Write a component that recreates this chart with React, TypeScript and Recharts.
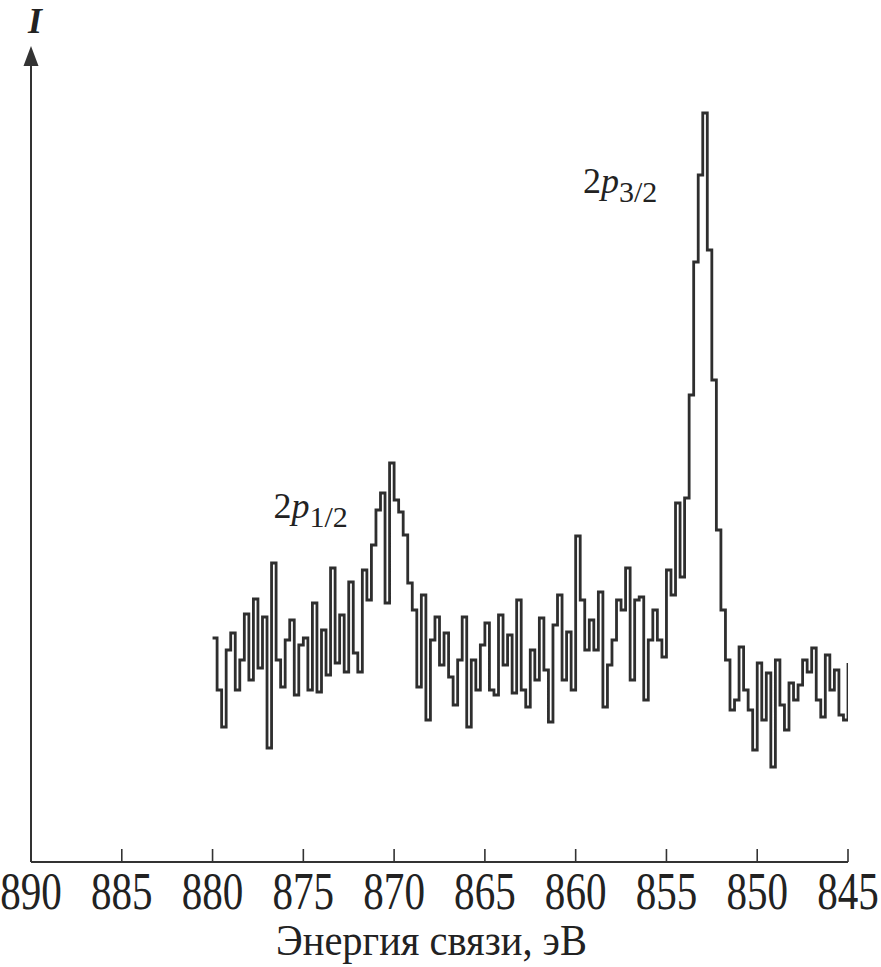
import React from 'react';
import {
  LineChart,
  Line,
  XAxis,
  YAxis,
  ReferenceLine,
  ReferenceDot,
  Label,
} from 'recharts';

// binding energy grid, eV (880 -> 845 in 0.25 eV steps)
const START_EV = 880;
const STEP_EV = 0.25;

// intensity, arbitrary units
const intensity = [
  224, 172, 135, 212, 229, 172, 202, 248, 182, 263,
  194, 245, 114, 299, 202, 175, 222, 242, 167, 217,
  224, 172, 259, 170, 232, 187, 294, 199, 247, 190,
  280, 209, 190, 292, 262, 317, 352, 369, 259, 399,
  362, 350, 327, 279, 252, 175, 267, 142, 222, 245,
  197, 229, 185, 157, 202, 245, 135, 202, 172, 217,
  239, 172, 167, 247, 197, 227, 169, 262, 172, 155,
  212, 182, 244, 192, 140, 237, 267, 182, 230, 172,
  326, 262, 212, 242, 212, 270, 155, 197, 222, 262,
  252, 294, 182, 262, 265, 162, 222, 252, 222, 205,
  292, 267, 359, 285, 364, 467, 600, 687, 749, 612,
  482, 332, 252, 202, 152, 162, 215, 172, 152, 112,
  199, 142, 189, 95, 202, 157, 132, 179, 162, 177,
  202, 190, 214, 162, 145, 207, 172, 192, 147, 142,
  199,
];

const xTicks = [890, 885, 880, 875, 870, 865, 860, 855, 850, 845];

const peakLabels = [
  { e: 876.65, i: 344, main: '2', sub: '1/2' },
  { e: 859.6, i: 669, main: '2', sub: '3/2' },
];

const rows = intensity.map((v, k) => ({ e: START_EV - k * STEP_EV, i: v }));

const INK = '#333';
const SERIF = 'Liberation Serif, Times New Roman, DejaVu Serif, serif';

const XTick = (props: any) => {
  const { x, y, payload } = props;
  return (
    <g transform={`translate(${x},${y})`}>
      <line x1={0} y1={0} x2={0} y2={-13} stroke={INK} strokeWidth={1.6} />
      <text
        transform="scale(0.79,1)"
        y={47}
        textAnchor="middle"
        style={{ fontFamily: SERIF, fontSize: 52 }}
        fill="#222"
      >
        {payload.value}
      </text>
    </g>
  );
};

const AxisTitle = (props: any) => {
  const vb = props.viewBox || {};
  const cx = vb.x + vb.width / 2 - 8;
  return (
    <g transform={`translate(${cx},${vb.y + 93})`}>
      <text
        transform="scale(0.92,1)"
        textAnchor="middle"
        style={{ fontFamily: SERIF, fontSize: 44 }}
        fill="#222"
      >
        Энергия связи, эВ
      </text>
    </g>
  );
};

const Arrow = (props: any) => {
  const { cx, cy } = props;
  return (
    <g>
      <polygon
        points={`${cx},${cy + 1} ${cx - 7.5},${cy + 21} ${cx + 7.5},${cy + 21}`}
        fill={INK}
      />
      <text
        x={cx + 4}
        y={cy - 12}
        textAnchor="middle"
        style={{ fontFamily: SERIF, fontStyle: 'italic', fontWeight: 'bold', fontSize: 36 }}
        fill="#222"
      >
        I
      </text>
    </g>
  );
};

const PeakName = (main: string, sub: string) => (props: any) => {
  const { cx, cy } = props;
  return (
    <text x={cx} y={cy} style={{ fontFamily: SERIF, fontSize: 36 }} fill="#222">
      {main}
      <tspan style={{ fontStyle: 'italic' }}>p</tspan>
      <tspan style={{ fontSize: 30 }} dy={9}>
        {sub}
      </tspan>
    </text>
  );
};

export default function App() {
  return (
    <div style={{ position: 'absolute', left: 0, top: 0, background: '#fff' }}>
      <LineChart
        width={881}
        height={967}
        data={rows}
        margin={{ top: 45, right: 33, bottom: 75, left: 31 }}
      >
        <XAxis
          type="number"
          dataKey="e"
          domain={[845, 890]}
          ticks={xTicks}
          reversed
          allowDataOverflow
          height={30}
          tickSize={0}
          tickMargin={0}
          tickLine={false}
          tick={<XTick />}
          axisLine={{ stroke: INK, strokeWidth: 2 }}
        >
          <Label content={<AxisTitle />} />
        </XAxis>
        <YAxis type="number" domain={[0, 817]} hide allowDataOverflow />
        <ReferenceLine
          segment={[
            { x: 890, y: 0 },
            { x: 890, y: 800 },
          ]}
          stroke={INK}
          strokeWidth={2}
        />
        <ReferenceDot x={890} y={817} r={0} shape={<Arrow />} />
        {peakLabels.map((p) => (
          <ReferenceDot
            key={p.sub}
            x={p.e}
            y={p.i}
            r={0}
            shape={PeakName(p.main, p.sub)}
          />
        ))}
        <Line
          type="stepAfter"
          dataKey="i"
          stroke="#2e2e2e"
          strokeWidth={2.8}
          dot={false}
          isAnimationActive={false}
        />
      </LineChart>
    </div>
  );
}
